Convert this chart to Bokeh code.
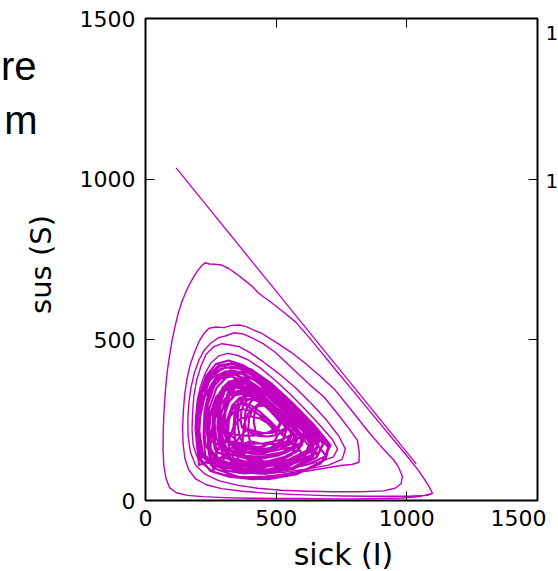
import math
from bokeh.plotting import figure
from bokeh.models import LinearAxis, Range1d, FixedTicker, Label
from bokeh.layouts import row, column
from bokeh.embed import file_html
from bokeh.resources import INLINE

# ---------------- data ----------------
x_ticks = [0, 500, 1000, 1500]
y_ticks = [0, 500, 1000, 1500]
x_title = "sick (I)"
y_title = "sus (S)"
side_words = ["re", "m"]
edge_marks = ["1", "1"]

# first straight jump of the trajectory
init_sick = [117, 1036]
init_sus = [1035, 114]

# outer loops (sick, sus)
loop1 = [(1096, 22), (1050, 12), (980, 8), (900, 6), (800, 5), (700, 5), (600, 6), (500, 6),
         (400, 7), (300, 9), (220, 12), (160, 16), (118, 24), (92, 40), (78, 70), (70, 110),
         (67, 160), (68, 220), (71, 280), (76, 340), (83, 400), (92, 450), (102, 500), (114, 545),
         (126, 585), (140, 620), (156, 652), (175, 683), (195, 710), (212, 728), (228, 740),
         (245, 736), (265, 735), (290, 733), (318, 722), (345, 707), (380, 685), (410, 665),
         (433, 645), (480, 617), (530, 585), (575, 555), (620, 513), (670, 464), (720, 414),
         (780, 355), (840, 296), (900, 237), (960, 178), (1010, 129), (1045, 93), (1072, 60),
         (1090, 36), (1098, 22)]
loop2 = [(1080, 16), (1020, 14), (940, 13), (850, 13), (760, 14), (660, 16), (560, 19), (460, 23),
         (370, 29), (290, 37), (232, 49), (192, 67), (166, 95), (151, 130), (144, 175), (142, 225),
         (145, 280), (150, 330), (158, 375), (170, 420), (188, 462), (205, 495), (222, 518),
         (243, 536), (270, 540), (300, 538), (330, 545), (360, 546), (385, 541), (415, 530),
         (447, 519), (500, 492), (556, 462), (610, 428), (665, 390), (721, 348), (785, 284),
         (849, 218), (910, 160), (950, 126), (968, 104), (983, 75), (978, 52), (955, 38), (910, 30)]
loop3 = [(820, 27), (720, 27), (620, 29), (520, 32), (430, 38), (350, 48), (280, 62), (228, 82),
         (192, 110), (172, 150), (163, 200), (162, 255), (166, 305), (175, 355), (188, 400),
         (205, 438), (225, 468), (250, 490), (280, 507), (305, 512), (340, 522), (375, 518),
         (410, 505), (450, 488), (495, 462), (540, 428), (590, 390), (640, 352), (683, 322),
         (735, 270), (780, 222), (811, 187), (818, 150), (817, 119), (790, 112), (747, 109),
         (690, 101), (620, 92), (540, 83), (460, 76), (385, 73), (315, 77), (260, 90), (220, 112),
         (195, 140), (182, 175), (178, 220)]
loop4 = [(180, 270), (185, 325), (196, 375), (212, 418), (232, 455), (260, 478), (292, 488),
         (325, 484), (360, 478), (400, 460), (450, 432), (510, 395), (575, 350), (640, 297),
         (695, 248), (740, 200), (765, 160), (752, 128), (700, 110), (620, 98), (530, 88),
         (440, 83), (360, 86), (295, 97), (245, 118), (212, 145), (196, 180), (190, 220)]
loop5 = [(192, 260), (198, 310), (210, 355), (228, 395), (250, 428), (280, 450), (315, 458),
         (350, 452), (392, 438), (440, 412), (495, 375), (555, 330), (615, 280), (670, 232),
         (715, 190), (735, 160), (718, 135), (665, 120), (590, 106), (505, 95), (425, 90),
         (350, 95), (290, 108), (245, 128), (214, 155), (200, 190)]

# dense inner loops
blob1 = [(212, 161), (198, 233), (205, 314), (234, 382), (279, 420), (333, 427), (387, 411),
         (460, 370), (532, 316), (604, 255), (660, 199), (633, 154), (545, 118), (446, 103),
         (347, 109), (266, 132)]
blob2 = [(210, 130), (195, 210), (202, 300), (235, 375), (285, 418), (345, 426), (405, 408),
         (485, 362), (565, 302), (645, 235), (708, 172), (678, 122), (580, 82), (470, 66),
         (360, 72), (270, 98)]
blob3 = [(220, 143), (206, 217), (213, 301), (244, 371), (290, 411), (346, 418), (402, 401),
         (476, 358), (551, 303), (625, 240), (684, 182), (656, 135), (565, 98), (462, 83),
         (360, 89), (276, 113)]
blob4 = [(273, 139), (262, 202), (267, 272), (293, 330), (332, 364), (379, 370), (425, 356),
         (488, 320), (550, 273), (613, 221), (662, 172), (638, 133), (562, 102), (476, 89),
         (390, 94), (320, 114)]
blob5 = [(251, 140), (238, 209), (244, 287), (272, 351), (315, 388), (367, 395), (418, 379),
         (487, 340), (556, 288), (625, 231), (679, 177), (653, 134), (569, 99), (474, 85),
         (380, 91), (302, 113)]
blob6 = [(244, 162), (232, 226), (238, 298), (264, 358), (304, 392), (352, 399), (400, 384),
         (464, 348), (528, 300), (592, 246), (642, 196), (618, 156), (540, 124), (452, 111),
         (364, 116), (292, 136)]
blob7 = [(285, 177), (275, 230), (280, 290), (301, 339), (334, 367), (374, 373), (413, 361),
         (466, 331), (519, 291), (572, 247), (613, 205), (594, 172), (529, 146), (456, 135),
         (384, 139), (324, 156)]
blob8 = [(272, 157), (261, 216), (266, 282), (291, 338), (328, 370), (372, 376), (416, 362),
         (476, 328), (535, 284), (594, 234), (641, 188), (619, 151), (546, 121), (465, 109),
         (383, 114), (317, 133)]
blob9 = [(265, 160), (255, 215), (260, 276), (282, 327), (316, 356), (357, 361), (398, 349),
         (452, 318), (507, 277), (561, 232), (604, 189), (584, 155), (517, 128), (442, 117),
         (367, 121), (306, 138)]
blob10 = [(292, 171), (284, 218), (288, 270), (307, 313), (336, 338), (371, 343), (405, 332),
          (452, 306), (498, 271), (545, 232), (581, 196), (564, 167), (507, 143), (443, 134),
          (379, 138), (327, 153)]
blob11 = [(309, 182), (299, 231), (304, 287), (324, 334), (355, 360), (392, 365), (429, 354),
          (479, 326), (529, 288), (578, 247), (617, 208), (599, 177), (538, 152), (470, 142),
          (402, 146), (346, 162)]
blob12 = [(302, 166), (293, 211), (297, 262), (316, 304), (344, 328), (377, 332), (411, 322),
          (456, 296), (501, 263), (545, 225), (581, 190), (564, 162), (509, 140), (447, 131),
          (386, 134), (335, 148)]
blob13 = [(344, 192), (337, 231), (341, 274), (356, 310), (380, 330), (409, 334), (438, 326),
          (476, 304), (515, 275), (553, 243), (583, 212), (569, 188), (522, 169), (469, 161),
          (416, 164), (373, 177)]
blob14 = [(310, 190), (302, 230), (306, 275), (322, 313), (347, 334), (377, 338), (407, 329),
          (448, 306), (488, 276), (528, 242), (559, 211), (544, 186), (495, 166), (440, 158),
          (385, 161), (340, 174)]
blob15 = [(343, 187), (337, 222), (340, 261), (354, 294), (376, 313), (403, 317), (429, 309),
          (464, 289), (499, 262), (535, 233), (562, 205), (549, 183), (506, 165), (458, 158),
          (409, 161), (370, 173)]
blob16 = [(323, 179), (316, 212), (319, 250), (333, 282), (354, 300), (379, 303), (404, 296),
          (438, 276), (472, 251), (505, 223), (532, 196), (519, 175), (478, 159), (432, 152),
          (386, 154), (348, 165)]
blob17 = [(316, 188), (311, 219), (313, 253), (326, 281), (345, 298), (368, 301), (390, 294),
          (421, 276), (451, 254), (482, 228), (506, 204), (494, 185), (457, 170), (415, 164),
          (373, 166), (339, 176)]
blob18 = [(385, 220), (380, 245), (382, 274), (393, 298), (409, 312), (428, 315), (447, 309),
          (473, 294), (498, 275), (524, 253), (544, 233), (534, 217), (503, 204), (468, 199),
          (433, 201), (404, 210)]
blob19 = [(369, 227), (364, 251), (367, 278), (376, 301), (391, 313), (409, 316), (427, 310),
          (452, 297), (476, 279), (500, 258), (518, 240), (509, 225), (480, 213), (447, 208),
          (414, 210), (387, 217)]
blob20 = [(205, 110), (196, 180), (200, 260), (218, 335), (255, 392), (305, 414), (360, 410),
          (420, 385), (495, 338), (570, 282), (640, 222), (700, 165), (690, 128), (610, 95),
          (510, 74), (410, 66), (320, 74), (248, 92)]
blob21 = [(200, 150), (194, 230), (203, 320), (232, 388), (270, 425), (318, 436), (372, 422),
          (440, 386), (510, 338), (580, 285), (640, 232), (672, 196), (650, 160), (575, 132),
          (480, 112), (380, 106), (300, 116), (238, 132)]
blob22 = [(300, 120), (285, 190), (290, 270), (315, 335), (355, 372), (405, 380), (455, 365),
          (520, 325), (590, 272), (650, 218), (700, 170), (690, 138), (620, 112), (530, 96),
          (440, 92), (360, 100)]
blob23 = [(250, 110), (238, 170), (242, 240), (262, 300), (300, 340), (345, 352), (395, 342),
          (455, 310), (520, 265), (580, 215), (625, 170), (610, 135), (545, 105), (460, 88),
          (375, 84), (300, 94)]
blob24 = [(240, 190), (233, 245), (238, 305), (258, 352), (290, 380), (330, 386), (368, 372),
          (415, 342), (462, 302), (505, 260), (540, 222), (528, 190), (480, 165), (415, 150),
          (350, 150), (285, 165)]
blob25 = [(380, 140), (372, 185), (376, 232), (392, 270), (420, 292), (455, 296), (490, 285),
          (535, 258), (580, 222), (620, 188), (645, 160), (630, 135), (580, 118), (515, 108),
          (450, 110), (405, 122)]
blob26 = [(280, 230), (274, 270), (278, 315), (294, 350), (320, 370), (352, 374), (384, 364),
          (425, 340), (465, 308), (498, 278), (520, 252), (508, 230), (470, 212), (415, 202),
          (360, 202), (310, 212)]
blob27 = [(270, 150), (262, 210), (266, 275), (288, 330), (324, 362), (368, 370), (412, 357),
          (470, 322), (530, 278), (590, 228), (632, 186), (615, 152), (550, 126), (470, 114),
          (390, 116), (320, 130)]
blob28 = [(230, 130), (222, 200), (226, 280), (244, 345), (272, 388), (306, 402), (342, 396),
          (390, 370), (445, 330), (505, 280), (560, 230), (600, 190), (588, 160), (530, 135),
          (450, 118), (370, 112), (295, 118)]
blob29 = [(260, 95), (248, 150), (252, 215), (272, 275), (305, 318), (350, 338), (400, 335),
          (460, 310), (530, 268), (600, 218), (660, 170), (690, 140), (670, 115), (600, 92),
          (500, 76), (400, 70), (320, 76)]
blob30 = [(320, 160), (312, 205), (316, 255), (332, 296), (360, 320), (395, 326), (430, 316),
          (472, 292), (512, 260), (548, 226), (570, 200), (556, 176), (510, 158), (450, 148),
          (395, 148), (350, 154)]
blob31 = [(400, 180), (393, 215), (396, 255), (410, 285), (434, 302), (462, 305), (490, 295),
          (525, 272), (560, 242), (588, 215), (604, 195), (592, 178), (555, 164), (505, 158),
          (455, 160), (420, 168)]
blob32 = [(290, 200), (282, 250), (288, 305), (308, 350), (342, 378), (385, 384), (428, 372),
          (485, 340), (545, 298), (605, 250), (655, 205), (680, 178), (665, 150), (600, 130),
          (515, 120), (430, 122), (360, 136), (315, 160)]
blob33 = [(330, 110), (320, 150), (322, 195), (338, 232), (365, 255), (400, 262), (438, 255),
          (485, 232), (535, 200), (578, 168), (600, 145), (585, 125), (540, 110), (475, 98),
          (405, 96), (360, 100)]
blob34 = [(420, 220), (414, 245), (417, 272), (428, 292), (446, 304), (468, 305), (490, 296),
          (515, 280), (538, 260), (552, 245), (545, 230), (520, 218), (485, 210), (448, 210)]
blob35 = [(215, 120), (205, 185), (208, 255), (225, 320), (255, 365), (295, 388), (340, 392),
          (390, 376), (450, 343), (515, 298), (575, 248), (622, 200), (640, 170), (618, 145),
          (560, 125), (480, 108), (395, 98), (315, 100), (255, 108)]
blob36 = [(250, 160), (244, 215), (250, 275), (270, 322), (305, 350), (350, 356), (398, 344),
          (452, 314), (505, 276), (552, 236), (590, 200), (600, 175), (575, 150), (520, 130),
          (450, 120), (380, 122), (315, 136), (275, 150)]
blob37 = [(360, 200), (352, 240), (356, 285), (372, 322), (400, 344), (436, 350), (472, 342),
          (515, 318), (555, 285), (590, 250), (612, 222), (600, 200), (560, 184), (505, 176),
          (450, 176), (400, 184)]
blob38 = [(230, 170), (224, 230), (230, 295), (250, 350), (283, 390), (325, 405), (372, 398),
          (428, 368), (488, 325), (548, 275), (600, 225), (640, 185), (628, 155), (570, 130),
          (490, 112), (405, 104), (325, 110), (265, 130)]
blob39 = [(300, 130), (292, 170), (296, 215), (312, 252), (340, 276), (375, 284), (412, 278),
          (458, 256), (505, 224), (548, 190), (572, 165), (560, 142), (515, 124), (450, 112),
          (380, 110), (330, 118)]
blob40 = [(350, 150), (340, 200), (344, 255), (362, 300), (394, 330), (435, 338), (478, 328),
          (530, 298), (585, 258), (632, 215), (662, 182), (650, 158), (600, 138), (530, 124),
          (455, 122), (395, 132)]
blob41 = [(270, 200), (264, 245), (268, 295), (285, 338), (315, 364), (352, 370), (392, 360),
          (440, 334), (490, 298), (535, 260), (568, 228), (558, 205), (515, 188), (455, 178),
          (390, 176), (325, 184)]

outer_path = loop1 + loop2 + loop3 + loop4 + loop5
blob_path = (blob1 + blob20 + blob2 + blob21 + blob3 + blob35 + blob4 + blob22 + blob5 + blob28
             + blob6 + blob29 + blob38 + blob7 + blob23 + blob36 + blob8 + blob32 + blob9
             + blob40 + blob27 + blob10 + blob24 + blob41 + blob11 + blob25 + blob12 + blob39
             + blob26 + blob13 + blob37 + blob30 + blob14 + blob33 + blob15 + blob31 + blob16
             + blob17 + blob18 + blob34 + blob19)
outer_sick = [pt[0] for pt in outer_path] + [blob_path[0][0]]
outer_sus = [pt[1] for pt in outer_path] + [blob_path[0][1]]
blob_sick = [pt[0] for pt in blob_path]
blob_sus = [pt[1] for pt in blob_path]

# ---------------- layout geometry ----------------
MAG = "#BF00BF"
FONT = "DejaVu Sans"
W = 558
H = 571
TOP_H = 535            # height of the row holding the plot
BOTTOM_H = H - TOP_H   # strip holding the x-axis title
LEFT_W = 70
RIGHT_W = 12
MAIN_W = W - LEFT_W - RIGHT_W


def blank_strip(w, h):
    f = figure(width=w, height=h, output_backend="svg", toolbar_location=None,
               x_range=Range1d(0, w), y_range=Range1d(0, h),
               x_axis_type=None, y_axis_type=None, min_border=0)
    f.grid.visible = False
    f.outline_line_color = None
    f.background_fill_color = "white"
    f.border_fill_color = "white"
    return f


p = figure(width=MAIN_W, height=TOP_H, output_backend="svg", toolbar_location=None,
           x_range=Range1d(0, 1500), y_range=Range1d(0, 1500),
           min_border_left=145 - LEFT_W, min_border_right=9, min_border_top=18,
           min_border_bottom=TOP_H - 500)
p.grid.visible = False
p.background_fill_color = "white"
p.border_fill_color = "white"
p.outline_line_color = "black"
p.outline_line_width = 2
p.outline_line_alpha = 1.0

p.line(init_sick, init_sus, line_color=MAG, line_width=1.3)
p.line(outer_sick, outer_sus, line_color=MAG, line_width=1.4, line_join="round")
p.line(blob_sick, blob_sus, line_color=MAG, line_width=2.1, line_join="round")


def style_axis(ax, ticks, show_labels):
    ax.ticker = FixedTicker(ticks=ticks)
    ax.axis_line_color = None
    ax.major_tick_in = 9
    ax.major_tick_out = 0
    ax.major_tick_line_color = "black"
    ax.major_tick_line_width = 1
    ax.minor_tick_line_color = None
    ax.major_label_text_font = FONT
    ax.major_label_text_color = "black" if show_labels else None
    ax.major_label_text_font_size = "22px" if show_labels else "1px"


xa = p.xaxis[0]
ya = p.yaxis[0]
style_axis(xa, x_ticks, True)
style_axis(ya, y_ticks, True)
xa.major_label_standoff = 9
ya.major_label_standoff = 10

top = LinearAxis()
right = LinearAxis()
style_axis(top, x_ticks, False)
style_axis(right, y_ticks, False)
top.major_label_standoff = 0
right.major_label_standoff = 0
p.add_layout(top, "above")
p.add_layout(right, "right")

# left strip: slide text fragments and the y-axis title
side = blank_strip(LEFT_W, TOP_H)
side.add_layout(Label(x=36, y=TOP_H - 53, text=side_words[0], text_align="right",
                      text_baseline="alphabetic", text_font="Liberation Sans",
                      text_font_size="40px", text_color="black"))
side.add_layout(Label(x=37, y=TOP_H - 113, text=side_words[1], text_align="right",
                      text_baseline="alphabetic", text_font="Liberation Sans",
                      text_font_size="40px", text_color="black"))
side.add_layout(Label(x=40.5, y=TOP_H - 273, text=y_title, angle=math.pi / 2,
                      text_align="center", text_baseline="middle", text_font=FONT,
                      text_font_size="29px", text_color="black"))

# right strip: cut-off tick digits of the neighbouring chart
edge = blank_strip(RIGHT_W, TOP_H)
edge.add_layout(Label(x=-1, y=TOP_H - 16, text=edge_marks[0], text_align="left",
                      text_baseline="middle", text_font=FONT, text_font_size="20px",
                      text_color="black"))
edge.add_layout(Label(x=-1, y=TOP_H - 180, text=edge_marks[1], text_align="left",
                      text_baseline="middle", text_font=FONT, text_font_size="20px",
                      text_color="black"))

# bottom strip: x-axis title
bottom = blank_strip(W, BOTTOM_H)
bottom.add_layout(Label(x=343, y=H - 553.5, text=x_title, text_align="center",
                        text_baseline="middle", text_font=FONT, text_font_size="30px",
                        text_color="black"))

layout = column(row(side, p, edge, spacing=0), bottom, spacing=0)
open("out.html", "w").write(file_html(layout, INLINE))
